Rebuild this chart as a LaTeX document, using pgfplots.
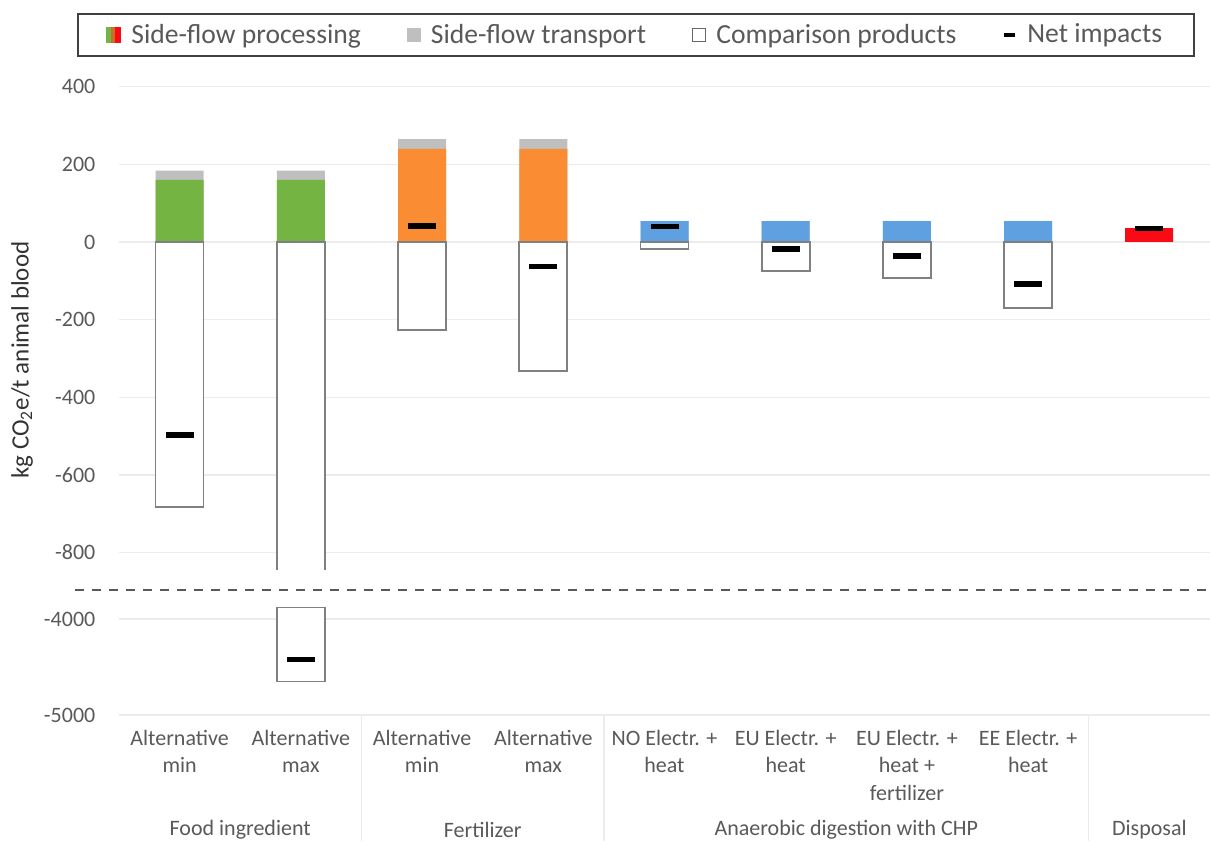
\documentclass[border=0pt]{standalone}
\usepackage{pgfplots}
\pgfplotsset{compat=1.18}
\usepackage{pgfplotstable}
\usepackage{fontspec}
\setmainfont{Carlito}

\definecolor{cgreen}{RGB}{116,180,66}
\definecolor{corange}{RGB}{250,140,52}
\definecolor{cblue}{RGB}{95,160,225}
\definecolor{cred}{RGB}{250,10,20}
\definecolor{ctrans}{RGB}{191,191,191}
\definecolor{ctext}{RGB}{89,89,89}
\definecolor{cgrid}{RGB}{236,236,236}
\definecolor{cbox}{RGB}{128,128,128}

% x: 0-1 food ingredient, 2-3 fertilizer, 4-7 anaerobic digestion, 8 disposal
% top = processing + transport
\pgfplotstableread{
x green orange blue red top comp net
0 160 nan nan nan 184 -682 -497
1 160 nan nan nan 184 -4650 -4420
2 nan 240 nan nan 265 -226 41
3 nan 240 nan nan 265 -332 -64
4 nan nan 54 nan 54 -18 39
5 nan nan 54 nan 54 -75 -18
6 nan nan 54 nan 54 -93 -36
7 nan nan 54 nan 54 -170 -108
8 nan nan nan 36 36 nan 35
}\datatab

\pgfplotsset{
  brk/.style={
    scale only axis,
    width=545.5pt,
    xmin=-0.5, xmax=8.5,
    axis line style={draw=none},
    major tick length=0pt,
    ymajorgrids,
    grid style={cgrid, line width=0.7pt},
    yticklabel style={font=\fontsize{11}{13}\selectfont, text=ctext, xshift=-8.3pt},
    clip mode=individual,
  },
  bar/.style={ybar, bar width=24pt, bar shift=0pt, draw=none, fill=#1},
  cmp/.style={ybar, bar width=24pt, bar shift=0pt, fill=white, draw=cbox, line width=0.8pt},
  net/.style={only marks, mark=-, mark size=7pt, mark options={line width=2.6pt, black}},
}

\begin{document}
\begin{tikzpicture}
\useasboundingbox (0,0) rectangle (605pt,420.5pt);

% upper part of the broken axis
\begin{axis}[brk,
  at={(59.5pt,135.5pt)}, anchor=south west,
  height=245.5pt,
  ymin=-845, ymax=420,
  xtick=\empty,
  ytick={-800,-600,-400,-200,0,200,400},
  yticklabels={-800,-600,-400,-200,0,200,400},
  legend columns=4,
  legend cell align=left,
  legend style={at={(0.474,1.0896)}, anchor=center,
    draw=black!75, line width=1pt, text=ctext,
    font=\fontsize{13.8}{16}\selectfont,
    inner xsep=14pt, inner ysep=3pt,
    /tikz/every odd column/.append style={column sep=3pt},
    /tikz/every even column/.append style={column sep=21pt}},
]
\addlegendimage{legend image code/.code={
  \fill[cgreen] (0pt,-3.3pt) rectangle (2.2pt,3.3pt);
  \fill[corange!80!black] (2.2pt,-3.3pt) rectangle (4.4pt,3.3pt);
  \fill[cred] (4.4pt,-3.3pt) rectangle (6.6pt,3.3pt);}}
\addlegendentry{Side-flow processing}
\addlegendimage{legend image code/.code={
  \fill[ctrans] (0pt,-3pt) rectangle (6pt,3pt);}}
\addlegendentry{Side-flow transport}
\addlegendimage{legend image code/.code={
  \draw[black!60, line width=0.5pt, fill=white] (0pt,-3.3pt) rectangle (6.6pt,3.3pt);}}
\addlegendentry{Comparison products}
\addlegendimage{legend image code/.code={
  \draw[black, line width=2pt] (0pt,0pt) -- (5.5pt,0pt);}}
\addlegendentry{Net impacts}

\addplot[bar=ctrans] table[x=x,y=top] {\datatab};
\addplot[bar=cgreen] table[x=x,y=green] {\datatab};
\addplot[bar=corange] table[x=x,y=orange] {\datatab};
\addplot[bar=cblue] table[x=x,y=blue] {\datatab};
\addplot[bar=cred] table[x=x,y=red] {\datatab};
\addplot[cmp] table[x=x,y=comp] {\datatab};
\addplot[net, restrict y to domain=-845:420] table[x=x,y=net] {\datatab};
\end{axis}

% lower part of the broken axis
\begin{axis}[brk,
  at={(59.5pt,63pt)}, anchor=south west,
  height=54pt,
  ymin=-5000, ymax=-3875,
  ytick={-5000,-4000},
  yticklabels={-5000,-4000},
  xtick={0,...,8},
  xticklabels={{Alternative\\min},{Alternative\\max},{Alternative\\min},{Alternative\\max},
    {NO Electr. +\\heat},{EU Electr. +\\heat},{EU Electr. +\\heat +\\fertilizer},{EE Electr. +\\heat},{}},
  xticklabel style={align=center, text=ctext, font=\fontsize{11}{13.8}\selectfont, yshift=-4pt},
]
\addplot[cmp, restrict y to domain=-5000:-3875] table[x=x,y=comp] {\datatab};
\addplot[net, restrict y to domain=-5000:-3875] table[x=x,y=net] {\datatab};
\coordinate (s1) at (axis cs:1.5,-5000);
\coordinate (s2) at (axis cs:3.5,-5000);
\coordinate (s3) at (axis cs:7.5,-5000);
\coordinate (g1) at (axis cs:0.5,-5000);
\coordinate (g2) at (axis cs:2.5,-5000);
\coordinate (g3) at (axis cs:5.5,-5000);
\coordinate (g4) at (axis cs:8,-5000);
\end{axis}

\foreach \s in {s1,s2,s3} \draw[cgrid, line width=0.7pt] (\s) -- ++(0,-63pt);
\begin{scope}[every node/.style={text=ctext, font=\fontsize{11}{13}\selectfont}]
\node at ([yshift=-57.5pt]g1) {Food ingredient};
\node at ([yshift=-57.5pt]g2) {Fertilizer};
\node at ([yshift=-57.5pt]g3) {Anaerobic digestion with CHP};
\node at ([yshift=-57.5pt]g4) {Disposal};
\end{scope}

% break marker
\draw[black!65, line width=1pt, dash pattern=on 4.5pt off 4pt] (37.5pt,125.5pt) -- (605pt,125.5pt);

% y axis title
\node[rotate=90, text=black!80, font=\fontsize{12.5}{15}\selectfont] at (11pt,240.5pt) {kg CO\textsubscript{2}e/t animal blood};
\end{tikzpicture}
\end{document}
